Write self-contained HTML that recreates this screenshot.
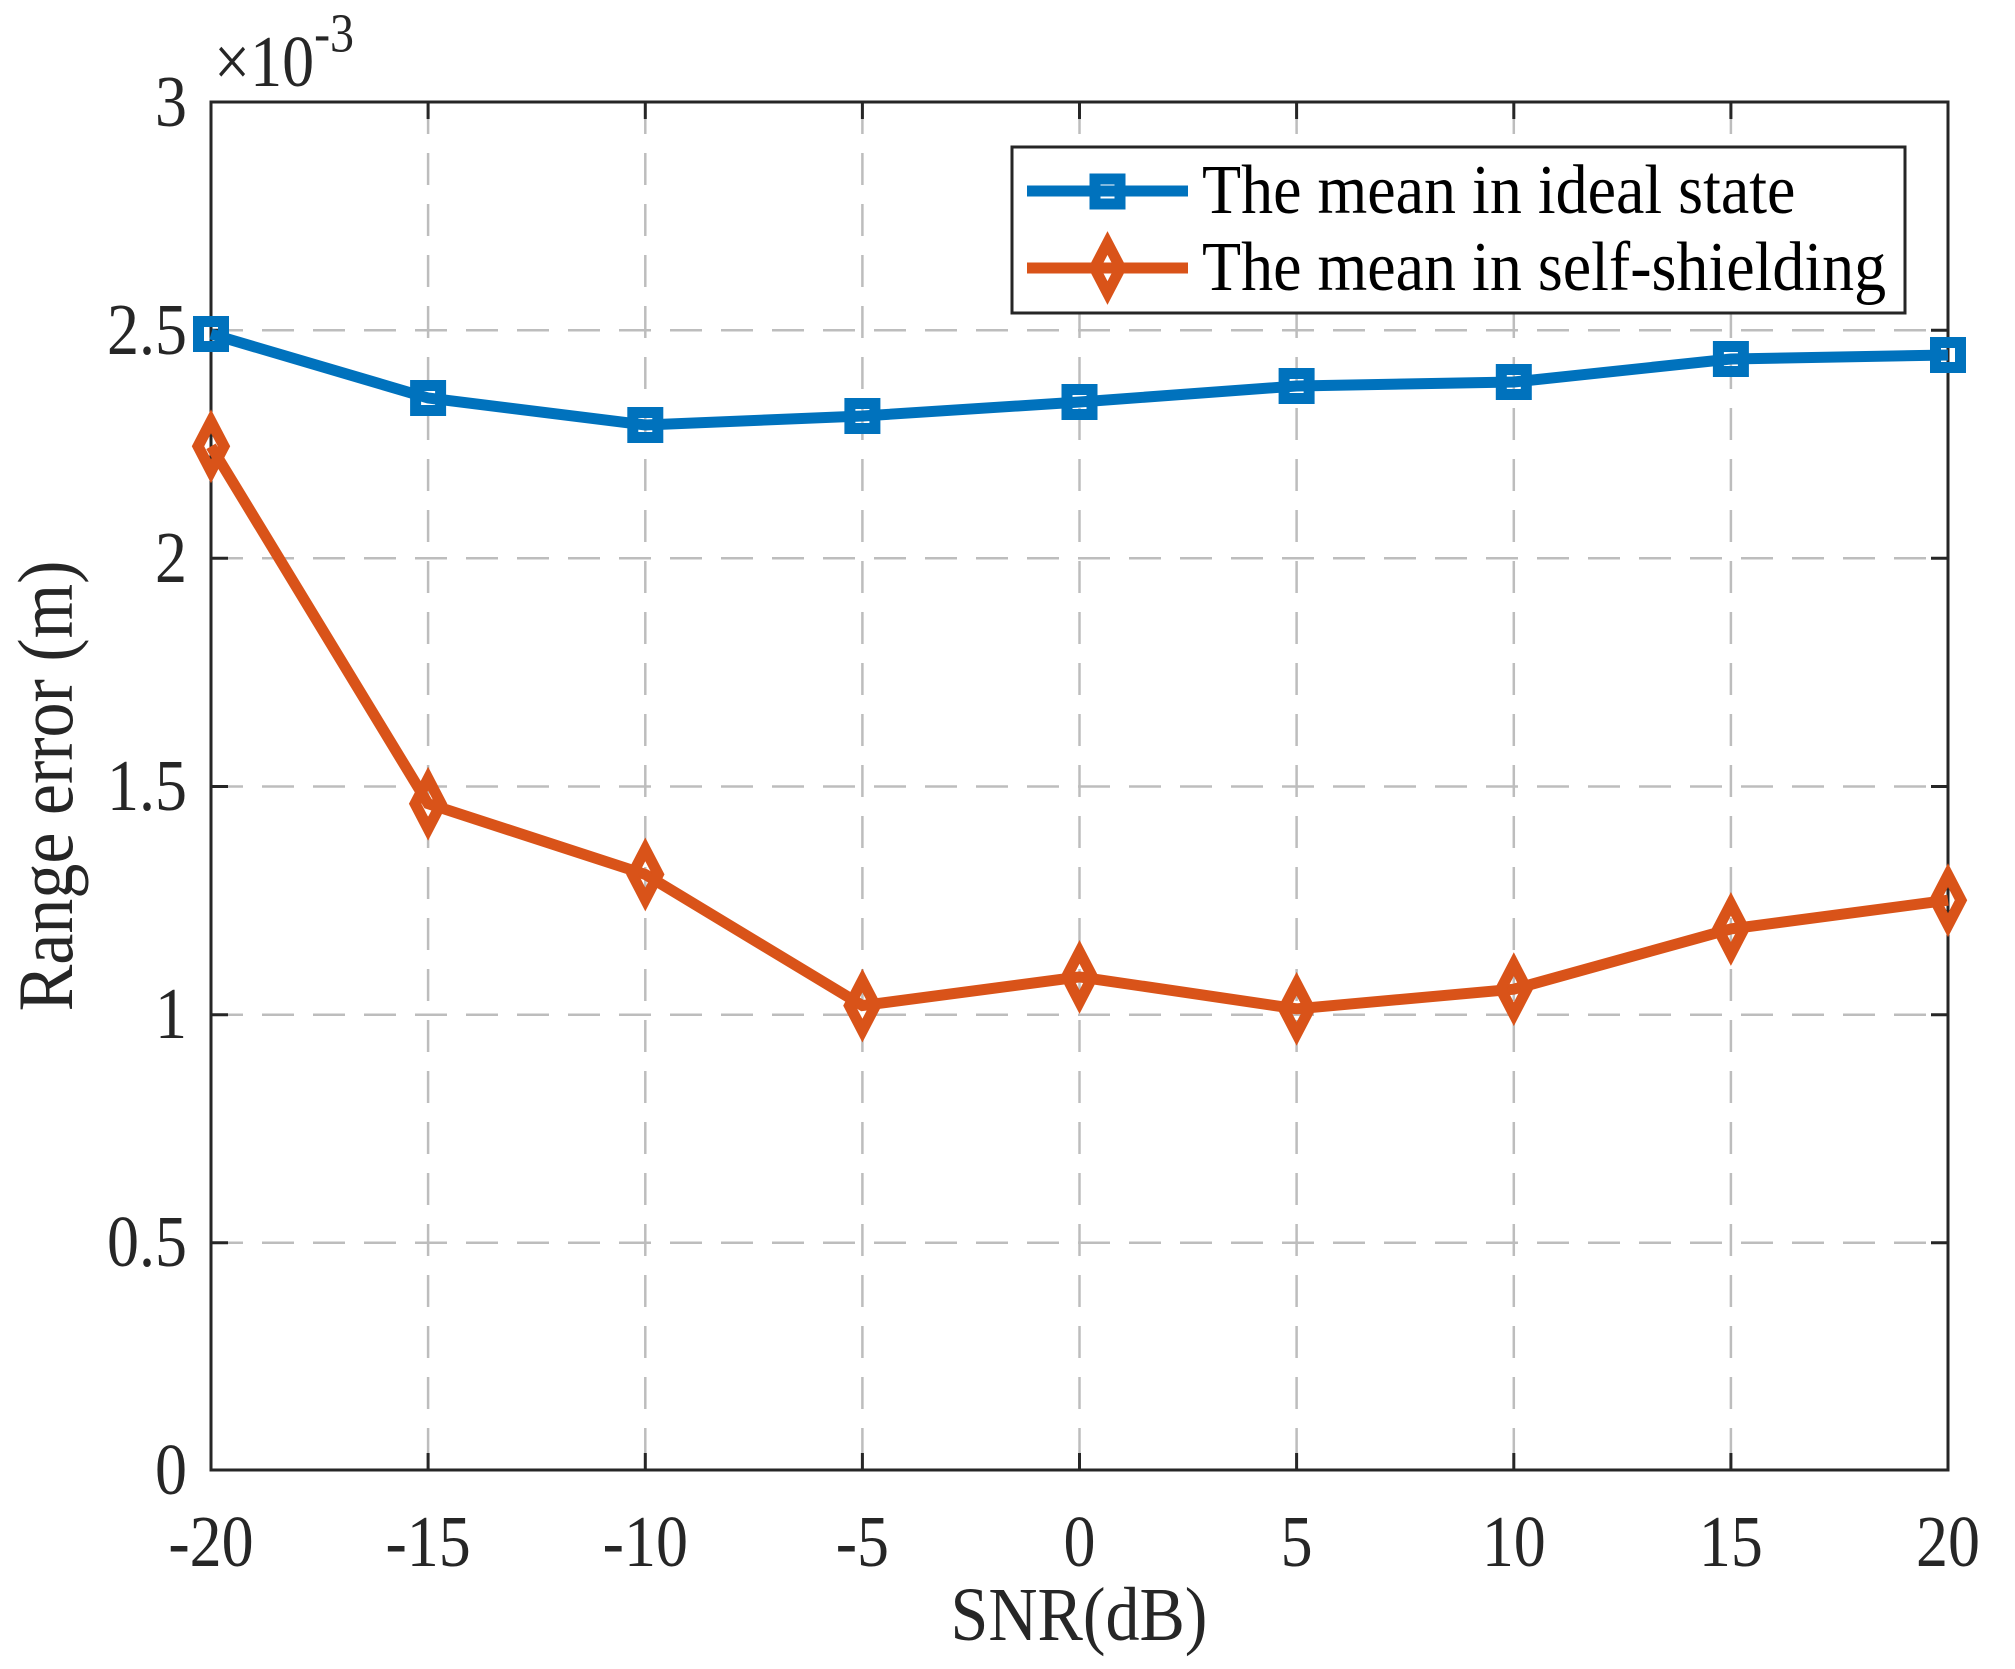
<!DOCTYPE html>
<html><head><meta charset="utf-8"><style>
html,body{margin:0;padding:0;background:#fff;}
svg{display:block;font-family:"Liberation Serif","Times New Roman",serif;}
</style></head><body>
<svg width="2015" height="1669" viewBox="0 0 2015 1669" xmlns="http://www.w3.org/2000/svg">
<rect width="2015" height="1669" fill="#fff"/>
<g stroke="#bdbdbd" stroke-width="2.5" stroke-dasharray="32,19" fill="none">
<line x1="428.1" y1="102" x2="428.1" y2="1470"/>
<line x1="645.3" y1="102" x2="645.3" y2="1470"/>
<line x1="862.4" y1="102" x2="862.4" y2="1470"/>
<line x1="1079.5" y1="102" x2="1079.5" y2="1470"/>
<line x1="1296.6" y1="102" x2="1296.6" y2="1470"/>
<line x1="1513.8" y1="102" x2="1513.8" y2="1470"/>
<line x1="1730.9" y1="102" x2="1730.9" y2="1470"/>
<line x1="211" y1="330.2" x2="1948" y2="330.2"/>
<line x1="211" y1="558.3" x2="1948" y2="558.3"/>
<line x1="211" y1="786.5" x2="1948" y2="786.5"/>
<line x1="211" y1="1014.7" x2="1948" y2="1014.7"/>
<line x1="211" y1="1242.8" x2="1948" y2="1242.8"/>
</g>
<g stroke="#262626" stroke-width="3" fill="none">
<rect x="211" y="102" width="1737" height="1368"/>
<path d="M428.1 102v17M645.3 102v17M862.4 102v17M1079.5 102v17M1296.6 102v17M1513.8 102v17M1730.9 102v17
M428.1 1470v-17M645.3 1470v-17M862.4 1470v-17M1079.5 1470v-17M1296.6 1470v-17M1513.8 1470v-17M1730.9 1470v-17
M211 330.2h17M211 558.3h17M211 786.5h17M211 1014.7h17M211 1242.8h17
M1948 330.2h-17M1948 558.3h-17M1948 786.5h-17M1948 1014.7h-17M1948 1242.8h-17"/>
</g>
<g fill="#262626" font-size="64" text-anchor="middle">
<text transform="translate(211,1566) scale(1,1.15)">-20</text>
<text transform="translate(428.1,1566) scale(1,1.15)">-15</text>
<text transform="translate(645.3,1566) scale(1,1.15)">-10</text>
<text transform="translate(862.4,1566) scale(1,1.15)">-5</text>
<text transform="translate(1079.5,1566) scale(1,1.15)">0</text>
<text transform="translate(1296.6,1566) scale(1,1.15)">5</text>
<text transform="translate(1513.8,1566) scale(1,1.15)">10</text>
<text transform="translate(1730.9,1566) scale(1,1.15)">15</text>
<text transform="translate(1948,1566) scale(1,1.15)">20</text>
</g>
<g fill="#262626" font-size="64" text-anchor="end">
<text transform="translate(187,1494) scale(1,1.15)">0</text>
<text transform="translate(187,1266) scale(1,1.15)">0.5</text>
<text transform="translate(187,1038) scale(1,1.15)">1</text>
<text transform="translate(187,810) scale(1,1.15)">1.5</text>
<text transform="translate(187,582) scale(1,1.15)">2</text>
<text transform="translate(187,354) scale(1,1.15)">2.5</text>
<text transform="translate(187,126) scale(1,1.15)">3</text>
</g>
<text transform="translate(214,86) scale(1,1.15)" font-size="64" fill="#262626">×10<tspan font-size="48" dy="-30">-3</tspan></text>
<text transform="translate(1079,1640) scale(1,1.12)" font-size="68" fill="#262626" text-anchor="middle">SNR(dB)</text>
<text transform="translate(72,786) rotate(-90) scale(1,1.12)" font-size="70" fill="#262626" text-anchor="middle">Range error (m)</text>
<g fill="none" stroke="#0072bd" stroke-width="11" stroke-linejoin="miter">
<polyline points="211,334 428.1,398 645.3,425 862.4,416 1079.5,402 1296.6,386 1513.8,382 1730.9,359 1948,355"/>
<g>
<rect x="198.5" y="321.5" width="25" height="25"/><rect x="415.6" y="385.5" width="25" height="25"/>
<rect x="632.8" y="412.5" width="25" height="25"/><rect x="849.9" y="403.5" width="25" height="25"/>
<rect x="1067" y="389.5" width="25" height="25"/><rect x="1284.1" y="373.5" width="25" height="25"/>
<rect x="1501.3" y="369.5" width="25" height="25"/><rect x="1718.4" y="346.5" width="25" height="25"/>
<rect x="1935.5" y="342.5" width="25" height="25"/>
</g>
</g>
<g fill="none" stroke="#d95319" stroke-width="11" stroke-linejoin="miter">
<polyline points="211,446.3 428.1,803.7 645.3,874.4 862.4,1005.6 1079.5,976.9 1296.6,1008.8 1513.8,989.2 1730.9,928.9 1948,900.2"/>
<g>
<path d="M211 421.3l13 25l-13 25l-13-25z"/><path d="M428.1 778.7l13 25l-13 25l-13-25z"/>
<path d="M645.3 849.4l13 25l-13 25l-13-25z"/><path d="M862.4 980.6l13 25l-13 25l-13-25z"/>
<path d="M1079.5 951.9l13 25l-13 25l-13-25z"/><path d="M1296.6 983.8l13 25l-13 25l-13-25z"/>
<path d="M1513.8 964.2l13 25l-13 25l-13-25z"/><path d="M1730.9 903.9l13 25l-13 25l-13-25z"/>
<path d="M1948 875.2l13 25l-13 25l-13-25z"/>
</g>
</g>
<rect x="1012" y="147" width="893" height="166" fill="#fff" stroke="#262626" stroke-width="3"/>
<line x1="1027" y1="191" x2="1188" y2="191" stroke="#0072bd" stroke-width="11"/>
<rect x="1095" y="179" width="25" height="25" fill="none" stroke="#0072bd" stroke-width="11"/>
<line x1="1027" y1="268" x2="1188" y2="268" stroke="#d95319" stroke-width="11"/>
<path d="M1107.5 243l13 25l-13 25l-13-25z" fill="none" stroke="#d95319" stroke-width="11"/>
<text transform="translate(1202,213) scale(1,1.1)" font-size="64" fill="#000">The mean in ideal state</text>
<text transform="translate(1202,290) scale(1,1.1)" font-size="64" fill="#000">The mean in self-shielding</text>
</svg>
</body></html>
